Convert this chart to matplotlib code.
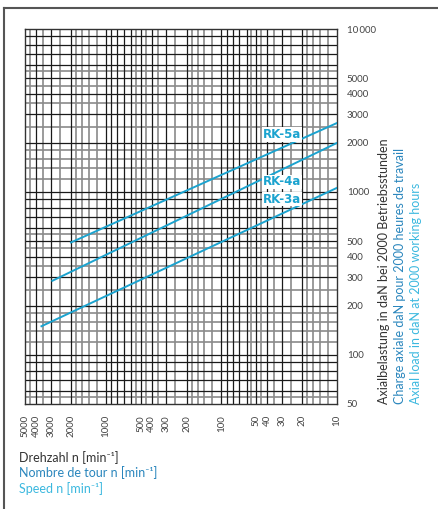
import numpy as np
import matplotlib.pyplot as plt
from matplotlib.lines import Line2D

plt.rcParams['font.family'] = ['Lato', 'DejaVu Sans']

# speed n [1/min] and axial load [daN] at the ends of each curve
rk5a_n = [2000, 10]
rk5a_f = [490, 2650]
rk4a_n = [2900, 10]
rk4a_f = [285, 2000]
rk3a_n = [3600, 10]
rk3a_f = [150, 1060]

x_ticks = [5000, 4000, 3000, 2000, 1000, 500, 400, 300, 200, 100, 50, 40, 30, 20, 10]
y_ticks = [50, 100, 200, 300, 400, 500, 1000, 2000, 3000, 4000, 5000, 10000]
y_ticklabels = ["50", "100", "200", "300", "400", "500", "1000", "2000",
                "3000", "4000", "5000", "10\u2009000"]

# log paper subdivisions per decade
dark_steps = [1, 2, 3, 4, 5, 6, 7, 8, 9]
light_steps = [1.2, 1.4, 1.6, 1.8, 2.5, 3.5, 4.5, 5.5]

blue = "#1ba3cf"
mid_blue = "#2a86bd"
light_blue = "#3bb8df"

fig = plt.figure(figsize=(4.38, 5.09), dpi=100)
ax = fig.add_axes([0.057, 0.2063, 0.7123, 0.7367])
ax.set_xscale("log")
ax.set_yscale("log")
ax.set_xlim(5000, 10)
ax.set_ylim(50, 10000)

# grid
for dec in [10, 100, 1000]:
    for s in light_steps:
        v = s * dec
        if 10 < v < 5000:
            ax.axvline(v, color="#8a8a8a", lw=1.2, zorder=1)
        if 50 < v < 10000:
            ax.axhline(v, color="#8a8a8a", lw=1.2, zorder=1)
for dec in [10, 100, 1000]:
    for s in dark_steps:
        v = s * dec
        if 10 < v < 5000:
            ax.axvline(v, color="#1a1a1a", lw=0.9, zorder=1)
        if 50 < v < 10000:
            ax.axhline(v, color="#1a1a1a", lw=0.9, zorder=1)

for sp in ax.spines.values():
    sp.set_color("#333333")
    sp.set_linewidth(1.0)

ax.plot(rk5a_n, rk5a_f, color=blue, lw=1.4, zorder=3)
ax.plot(rk4a_n, rk4a_f, color=blue, lw=1.4, zorder=3)
ax.plot(rk3a_n, rk3a_f, color=blue, lw=1.4, zorder=3)

box = dict(facecolor="white", edgecolor="none", pad=0.6)
for label, yy in [("RK-5a", 2260), ("RK-4a", 1154), ("RK-3a", 905)]:
    ax.text(30, yy, label, color=blue, fontsize=8.5, fontweight="bold",
            family="DejaVu Sans", ha="center", va="center", bbox=box, zorder=4)

ax.xaxis.set_minor_locator(plt.NullLocator())
ax.yaxis.set_minor_locator(plt.NullLocator())
ax.set_xticks(x_ticks)
ax.set_xticklabels([str(v) for v in x_ticks], rotation=90)
ax.set_yticks(y_ticks)
ax.set_yticklabels(y_ticklabels)
ax.yaxis.tick_right()
ax.tick_params(axis="x", length=0, pad=8, labelsize=7, labelcolor="#444444")
ax.tick_params(axis="y", length=0, pad=7, labelsize=7, labelcolor="#444444")

# right side labels
fig.text(0.877, 0.2063, "Axialbelastung in daN bei 2000 Betriebsstunden",
         rotation=90, ha="center", va="bottom", fontsize=9, color="#333333")
fig.text(0.913, 0.2063, "Charge axiale daN pour 2000 heures de travail",
         rotation=90, ha="center", va="bottom", fontsize=9, color=mid_blue)
fig.text(0.950, 0.2063, "Axial load in daN at 2000 working hours",
         rotation=90, ha="center", va="bottom", fontsize=9, color=light_blue)

# bottom labels
fig.text(0.043, 0.102, "Drehzahl n [min\u207b\u00b9]", ha="left", va="center",
         fontsize=9, color="#333333")
fig.text(0.043, 0.071, "Nombre de tour n [min\u207b\u00b9]", ha="left", va="center",
         fontsize=9, color=mid_blue)
fig.text(0.043, 0.041, "Speed n [min\u207b\u00b9]", ha="left", va="center",
         fontsize=9, color=light_blue)

# page frame (top and left)
fig.add_artist(Line2D([0.009, 1.0], [0.984, 0.984], color="#555555", lw=1.5,
                      transform=fig.transFigure))
fig.add_artist(Line2D([0.009, 0.009], [0.0, 0.984], color="#555555", lw=1.5,
                      transform=fig.transFigure))

fig.savefig("out.png", dpi=100)
